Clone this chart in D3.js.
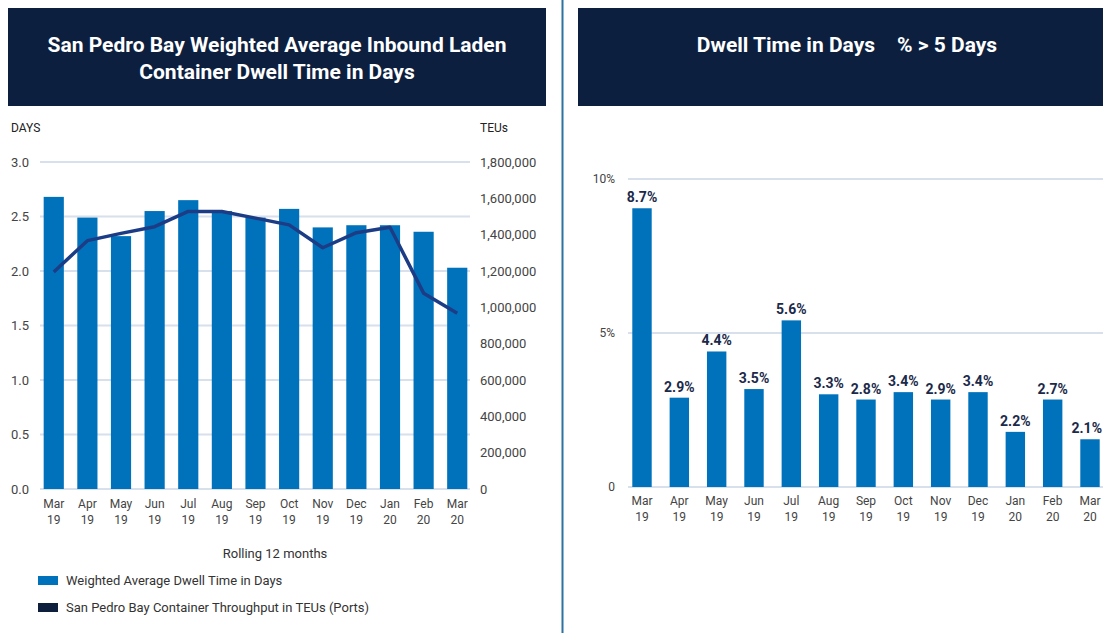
<!DOCTYPE html>
<html>
<head>
<meta charset="utf-8">
<script src="https://cdn.jsdelivr.net/npm/d3@7"></script>
<style>
  body { margin: 0; background: #fff; }
  svg { display: block; font-family: Roboto, "Noto Sans", sans-serif; }
</style>
</head>
<body>
<script>
// months shown on both charts (rolling 12 months)
var months = ["Mar", "Apr", "May", "Jun", "Jul", "Aug", "Sep", "Oct", "Nov", "Dec", "Jan", "Feb", "Mar"];
var years  = ["19", "19", "19", "19", "19", "19", "19", "19", "19", "19", "20", "20", "20"];

// left chart: weighted average dwell time (days) + throughput (TEUs)
var dwellDays = [2.68, 2.49, 2.32, 2.55, 2.65, 2.55, 2.49, 2.57, 2.40, 2.42, 2.42, 2.36, 2.03];
var teus = [1195000, 1367000, 1407000, 1444000, 1528000, 1528000, 1491000, 1454000, 1328000, 1411000, 1441000, 1078000, 967000];
var daysTicks = [0, 0.5, 1.0, 1.5, 2.0, 2.5, 3.0];
var teuTicks = [0, 200000, 400000, 600000, 800000, 1000000, 1200000, 1400000, 1600000, 1800000];

// right chart: % of containers dwelling > 5 days (bar heights as drawn, labels as printed)
var pctOver5 = [9.05, 2.90, 4.40, 3.18, 5.41, 3.01, 2.84, 3.08, 2.84, 3.08, 1.79, 2.84, 1.55];
var pctLabels = ["8.7%", "2.9%", "4.4%", "3.5%", "5.6%", "3.3%", "2.8%", "3.4%", "2.9%", "3.4%", "2.2%", "2.7%", "2.1%"];
var pctTicks = [0, 5, 10];

var keys = months.map(function(m, i) { return m + " " + years[i]; });

var W = 1103, H = 633;
var navy = "#0c1f3f", barBlue = "#0072bc", lineBlue = "#1c3d85", grid = "#d8e0ec";

var svg = d3.select("body").append("svg")
    .attr("width", W)
    .attr("height", H);

// divider between the two panels
svg.append("line")
    .attr("x1", 562.5).attr("x2", 562.5)
    .attr("y1", 0).attr("y2", H)
    .attr("stroke", "#2f72a0")
    .attr("stroke-width", 2);

// ---------- title boxes ----------
svg.append("rect").attr("x", 8).attr("y", 8).attr("width", 538).attr("height", 98).attr("fill", navy);
svg.append("rect").attr("x", 578).attr("y", 8).attr("width", 530).attr("height", 98).attr("fill", navy);

var t1 = svg.append("text")
    .attr("fill", "#fff")
    .attr("font-weight", 700)
    .attr("font-size", 21)
    .attr("text-anchor", "middle");
t1.append("tspan").attr("x", 277).attr("y", 52).text("San Pedro Bay Weighted Average Inbound Laden");
t1.append("tspan").attr("x", 277).attr("y", 79).text("Container Dwell Time in Days");

var t2 = svg.append("text")
    .attr("fill", "#fff")
    .attr("font-weight", 700)
    .attr("font-size", 21)
    .attr("text-anchor", "middle")
    .attr("x", 847)
    .attr("y", 52);
t2.append("tspan").text("Dwell Time in Days");
t2.append("tspan").attr("dx", 22).text("% > 5 Days");

// ---------- left chart ----------
var xL = d3.scaleBand()
    .domain(keys)
    .range([43, 468])
    .paddingInner(0.4)
    .paddingOuter(0.02);

var yDays = d3.scaleLinear().domain([0, 3]).range([489, 162]);
var yTeu = d3.scaleLinear().domain([0, 1800000]).range([489, 162]);

var left = svg.append("g");

left.selectAll(".gridL")
    .data(daysTicks)
    .enter()
    .append("line")
        .attr("x1", 40).attr("x2", 470)
        .attr("y1", function(d) { return yDays(d); })
        .attr("y2", function(d) { return yDays(d); })
        .attr("stroke", grid)
        .attr("stroke-width", 2);

left.selectAll(".tickDays")
    .data(daysTicks)
    .enter()
    .append("text")
        .attr("x", 11)
        .attr("y", function(d) { return yDays(d); })
        .attr("dy", "0.35em")
        .attr("font-size", 13)
        .attr("fill", "#444")
        .text(d3.format(".1f"));

left.selectAll(".tickTeu")
    .data(teuTicks)
    .enter()
    .append("text")
        .attr("x", 480)
        .attr("y", function(d) { return yTeu(d); })
        .attr("dy", "0.35em")
        .attr("font-size", 13)
        .attr("fill", "#444")
        .text(d3.format(","));

left.append("text").attr("x", 11).attr("y", 132).attr("font-size", 12).attr("fill", "#222").text("DAYS");
left.append("text").attr("x", 480).attr("y", 132).attr("font-size", 12).attr("fill", "#222").text("TEUs");

left.selectAll(".barL")
    .data(dwellDays)
    .enter()
    .append("rect")
        .attr("x", function(d, i) { return xL(keys[i]); })
        .attr("y", function(d) { return yDays(d); })
        .attr("width", xL.bandwidth())
        .attr("height", function(d) { return yDays(0) - yDays(d); })
        .attr("fill", barBlue);

var teuLine = d3.line()
    .x(function(d, i) { return xL(keys[i]) + xL.bandwidth() / 2; })
    .y(function(d) { return yTeu(d); });

left.append("path")
    .datum(teus)
    .attr("d", teuLine)
    .attr("fill", "none")
    .attr("stroke", lineBlue)
    .attr("stroke-width", 3.5)
    .attr("stroke-linejoin", "round");

var xlabL = left.selectAll(".xlabL")
    .data(keys)
    .enter()
    .append("text")
        .attr("text-anchor", "middle")
        .attr("font-size", 12)
        .attr("fill", "#444");
xlabL.append("tspan")
    .attr("x", function(d) { return xL(d) + xL.bandwidth() / 2; })
    .attr("y", 508)
    .text(function(d, i) { return months[i]; });
xlabL.append("tspan")
    .attr("x", function(d) { return xL(d) + xL.bandwidth() / 2; })
    .attr("y", 524)
    .text(function(d, i) { return years[i]; });

left.append("text")
    .attr("x", 275).attr("y", 558)
    .attr("text-anchor", "middle")
    .attr("font-size", 13)
    .attr("fill", "#333")
    .text("Rolling 12 months");

// legend
var legend = [
    { label: "Weighted Average Dwell Time in Days", color: barBlue },
    { label: "San Pedro Bay Container Throughput in TEUs (Ports)", color: "#0d1f3d" }
];
var lg = left.selectAll(".lg")
    .data(legend)
    .enter()
    .append("g")
        .attr("transform", function(d, i) { return "translate(38," + (576 + i * 27) + ")"; });
lg.append("rect").attr("width", 20).attr("height", 9).attr("fill", function(d) { return d.color; });
lg.append("text")
    .attr("x", 28).attr("y", 4.5).attr("dy", "0.35em")
    .attr("font-size", 13)
    .attr("fill", "#333")
    .text(function(d) { return d.label; });

// ---------- right chart ----------
var xR = d3.scaleBand()
    .domain(keys)
    .range([628, 1104])
    .paddingInner(0.48)
    .paddingOuter(0.115);

var yPct = d3.scaleLinear().domain([0, 10]).range([487, 179]);

var right = svg.append("g");

right.selectAll(".gridR")
    .data(pctTicks)
    .enter()
    .append("line")
        .attr("x1", 628).attr("x2", W)
        .attr("y1", function(d) { return yPct(d); })
        .attr("y2", function(d) { return yPct(d); })
        .attr("stroke", grid)
        .attr("stroke-width", 2);

right.selectAll(".tickPct")
    .data(pctTicks)
    .enter()
    .append("text")
        .attr("x", 615)
        .attr("y", function(d) { return yPct(d); })
        .attr("dy", "0.35em")
        .attr("text-anchor", "end")
        .attr("font-size", 12)
        .attr("fill", "#444")
        .text(function(d) { return d === 0 ? "0" : d + "%"; });

right.selectAll(".barR")
    .data(pctOver5)
    .enter()
    .append("rect")
        .attr("x", function(d, i) { return xR(keys[i]); })
        .attr("y", function(d) { return yPct(d); })
        .attr("width", xR.bandwidth())
        .attr("height", function(d) { return yPct(0) - yPct(d); })
        .attr("fill", barBlue);

right.selectAll(".valR")
    .data(pctOver5)
    .enter()
    .append("text")
        .attr("x", function(d, i) { return xR(keys[i]) + xR.bandwidth() / 2; })
        .attr("y", function(d) { return yPct(d) - 6; })
        .attr("text-anchor", "middle")
        .attr("font-size", 14)
        .attr("font-weight", 700)
        .attr("fill", "#1b2a4a")
        .text(function(d, i) { return pctLabels[i]; })
        .each(function() {
            // keep the last label inside the page edge
            var b = this.getBBox();
            if (b.x + b.width > W - 1) {
                d3.select(this).attr("x", +d3.select(this).attr("x") - (b.x + b.width - (W - 1)));
            }
        });

var xlabR = right.selectAll(".xlabR")
    .data(keys)
    .enter()
    .append("text")
        .attr("text-anchor", "middle")
        .attr("font-size", 12)
        .attr("fill", "#444");
xlabR.append("tspan")
    .attr("x", function(d) { return xR(d) + xR.bandwidth() / 2; })
    .attr("y", 505)
    .text(function(d, i) { return months[i]; });
xlabR.append("tspan")
    .attr("x", function(d) { return xR(d) + xR.bandwidth() / 2; })
    .attr("y", 521)
    .text(function(d, i) { return years[i]; });
</script>
</body>
</html>
